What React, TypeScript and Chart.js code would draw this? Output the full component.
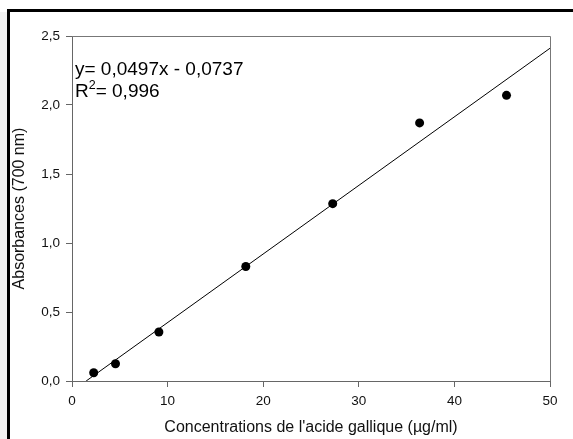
import React, { useEffect, useRef } from "react";
import { Chart, registerables } from "chart.js";

Chart.register(...registerables);

const concentrations = [2.27, 4.55, 9.09, 18.18, 27.27, 36.36, 45.45];
const absorbances = [0.06, 0.125, 0.355, 0.83, 1.285, 1.87, 2.07];
const fitX = [1.48, 50];
const fitY = [0, 2.4113];
const xTicks = [0, 10, 20, 30, 40, 50];
const yTicks = [0, 0.5, 1.0, 1.5, 2.0, 2.5];
const equationLine = "y= 0,0497x - 0,0737";
const r2Value = "= 0,996";

const FONT = "'Liberation Sans', Arial, sans-serif";

const decorPlugin = {
  id: "decor",
  beforeDraw(chart: any) {
    const ctx = chart.ctx;
    ctx.save();
    ctx.fillStyle = "#ffffff";
    ctx.fillRect(0, 0, chart.width, chart.height);
    ctx.fillStyle = "#f3f3f3";
    ctx.fillRect(0, 12, 7, chart.height - 12);
    ctx.fillStyle = "#000000";
    ctx.fillRect(7, 9, chart.width - 7, 3);
    ctx.fillRect(7, 9, 3, chart.height - 9);
    ctx.restore();
  },
  afterDraw(chart: any) {
    const ctx = chart.ctx;
    const a = chart.chartArea;
    ctx.save();
    ctx.strokeStyle = "#777777";
    ctx.lineWidth = 1;
    ctx.beginPath();
    ctx.moveTo(a.left, a.top + 0.5);
    ctx.lineTo(a.right + 0.5, a.top + 0.5);
    ctx.lineTo(a.right + 0.5, a.bottom);
    ctx.stroke();
    ctx.fillStyle = "#000000";
    ctx.textBaseline = "alphabetic";
    ctx.textAlign = "left";
    ctx.font = `19px ${FONT}`;
    const x0 = a.left + 3;
    ctx.fillText(equationLine, x0, 75);
    ctx.fillText("R", x0, 97);
    const rw = ctx.measureText("R").width;
    ctx.font = `12.5px ${FONT}`;
    ctx.fillText("2", x0 + rw, 89);
    const sw = ctx.measureText("2").width;
    ctx.font = `19px ${FONT}`;
    ctx.fillText(r2Value, x0 + rw + sw, 97);
    ctx.restore();
  },
};

export default function App() {
  const ref = useRef<HTMLCanvasElement>(null);
  useEffect(() => {
    document.body.style.margin = "0";
    Chart.defaults.font.family = FONT;
    const chart = new Chart(ref.current!, {
      type: "scatter",
      data: {
        datasets: [
          {
            label: "fit",
            data: fitX.map((x, i) => ({ x, y: fitY[i] })),
            showLine: true,
            borderColor: "#000000",
            borderWidth: 1,
            pointRadius: 0,
            fill: false,
          },
          {
            label: "points",
            data: concentrations.map((x, i) => ({ x, y: absorbances[i] })),
            showLine: false,
            pointRadius: 4.5,
            pointBackgroundColor: "#000000",
            pointBorderColor: "#000000",
            pointBorderWidth: 0,
          },
        ],
      },
      options: {
        responsive: false,
        animation: false,
        layout: { padding: { top: 36, right: 23, left: 0, bottom: 0 } },
        plugins: { legend: { display: false }, tooltip: { enabled: false } },
        scales: {
          x: {
            type: "linear",
            min: 0,
            max: 50,
            afterFit: (s: any) => {
              s.height = 58;
            },
            afterBuildTicks: (s: any) => {
              s.ticks = xTicks.map((v) => ({ value: v }));
            },
            ticks: {
              color: "#111111",
              font: { size: 13.5 },
              padding: 6,
              maxRotation: 0,
              callback: (v: any) => String(v),
            },
            grid: {
              display: true,
              drawOnChartArea: false,
              drawTicks: true,
              tickLength: 6,
              color: "#666666",
            },
            border: { display: true, color: "#666666", width: 1 },
            title: {
              display: true,
              text: "Concentrations de l'acide gallique (µg/ml)",
              color: "#111111",
              font: { size: 16 },
              padding: { top: 0, bottom: 2 },
            },
          },
          y: {
            type: "linear",
            min: 0,
            max: 2.5,
            afterFit: (s: any) => {
              s.width = 72;
            },
            afterBuildTicks: (s: any) => {
              s.ticks = yTicks.map((v) => ({ value: v }));
            },
            ticks: {
              color: "#111111",
              font: { size: 13.5 },
              padding: 6,
              callback: (v: any) => Number(v).toFixed(1).replace(".", ","),
            },
            grid: {
              display: true,
              drawOnChartArea: false,
              drawTicks: true,
              tickLength: 6,
              color: "#666666",
            },
            border: { display: true, color: "#666666", width: 1 },
            title: {
              display: true,
              text: "Absorbances (700 nm)",
              color: "#111111",
              font: { size: 16 },
              padding: { top: 10, bottom: 0 },
            },
          },
        },
      },
      plugins: [decorPlugin],
    } as any);
    return () => chart.destroy();
  }, []);
  return <canvas ref={ref} width={573} height={439} style={{ display: "block", width: 573, height: 439 }} />;
}
